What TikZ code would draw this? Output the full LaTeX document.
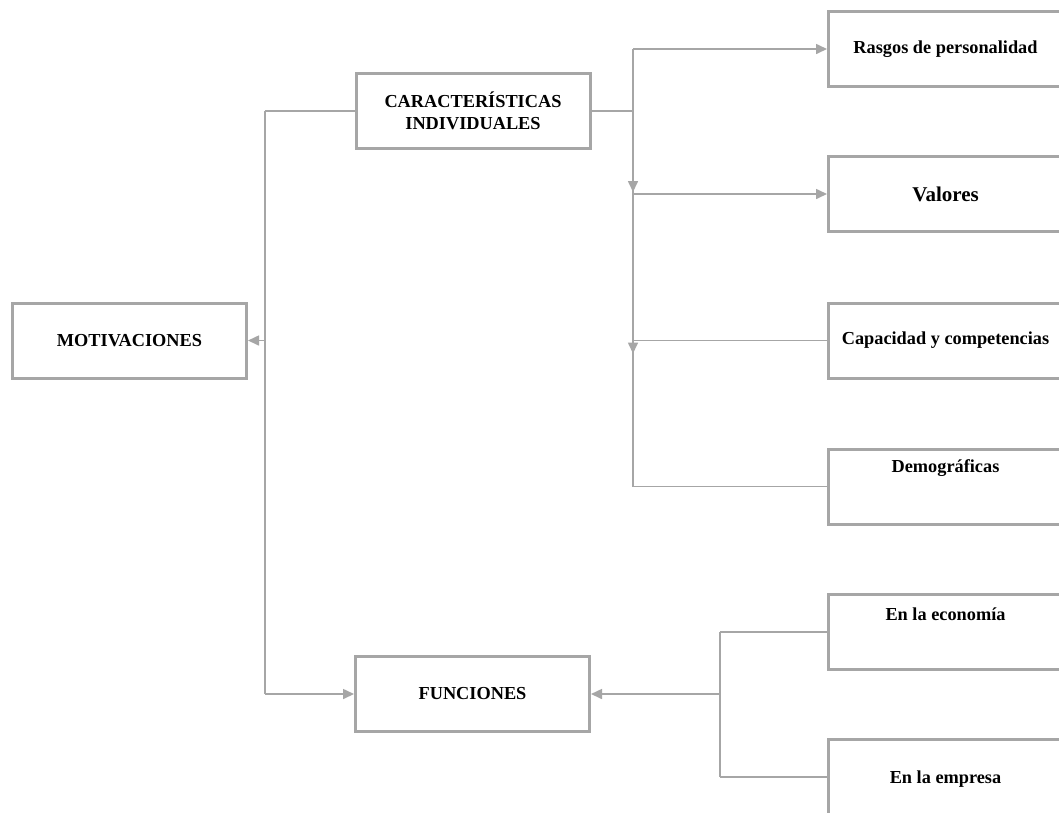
\documentclass[tikz,border=0pt]{standalone}
\usepackage{fontspec}
\setmainfont{Liberation Serif}
\usetikzlibrary{arrows.meta}
\definecolor{linegray}{HTML}{A6A6A6}
\begin{document}
\begin{tikzpicture}[x=1pt,y=-1pt,
  box/.style={draw=linegray, line width=3pt, fill=white, minimum width=234pt, minimum height=75pt, inner sep=0pt},
  txt/.style={font=\bfseries\fontsize{18.3}{22}\selectfont, align=center, text=black},
  conn/.style={draw=linegray, line width=1.6pt},
  arr/.style={conn, -{Triangle[length=11pt,width=10pt]}}
]
\useasboundingbox (0,0) rectangle (1059,812);
\clip (0,0) rectangle (1059,812);
\fill[white] (0,0) rectangle (1059,812);

% coordinates
\coordinate (lc) at (265,111);
\coordinate (lm) at (265,340.5);
\coordinate (lf) at (265,694);
\coordinate (jc) at (633,111);
\coordinate (jtop) at (633,49);
\coordinate (jv) at (633,194);
\coordinate (jcap) at (633,340.5);
\coordinate (jdem) at (633,486.5);
\coordinate (jf) at (720,694);
\coordinate (je) at (720,632);
\coordinate (jm) at (720,777);

% connectors
\draw[conn] (lc) -- (lf);
\draw[conn] (jtop) -- (jdem);
\draw[conn] (je) -- (jm);

% boxes
\node[box] (motiv) at (129.5,340.5) {};
\node[box] (carac) at (473,111) {};
\node[box] (func) at (472.5,694) {};
\node[box] (rasgos) at (945.5,49) {};
\node[box] (valores) at (945.5,194) {};
\node[box] (capac) at (945.5,340.5) {};
\node[box] (demo) at (945.5,486.5) {};
\node[box] (econ) at (945.5,632) {};
\node[box] (empresa) at (945.5,777) {};

% texts
\node[txt] (tmotiv) at (motiv.center) {MOTIVACIONES};
\node[txt] (tcarac) at (carac.center) {CARACTERÍSTICAS\\INDIVIDUALES};
\node[txt] (tfunc) at (func.center) {FUNCIONES};
\node[txt] (trasgos) at (rasgos.center) {Rasgos de personalidad};
\node[txt, font=\bfseries\fontsize{21}{24}\selectfont] (tvalores) at (valores.center) {Valores};
\node[txt] (tcapac) at (capac.center) {Capacidad y competencias};
\node[txt] (tdemo) at (945.5,468) {Demográficas};
\node[txt] (tecon) at (945.5,614) {En la economía};
\node[txt] (tempresa) at (945.5,779) {En la empresa};

% arrows and links
\draw[conn] (carac.west) -- (lc);
\draw[arr] (lm) -- (motiv.east);
\draw[arr] (lf) -- (func.west);
\draw[conn] (carac.east) -- (jc);
\draw[arr] (jtop) -- (rasgos.west);
\draw[arr] (jv) -- (valores.west);
\draw[conn] (jcap) -- (capac.west);
\draw[conn] (jdem) -- (demo.west);
\draw[arr] (jc) -- ++(0,81);
\draw[arr] (jcap) -- ++(0,13);
\draw[arr] (jf) -- (func.east);
\draw[conn] (je) -- (econ.west);
\draw[conn] (jm) -- (empresa.west);
\end{tikzpicture}
\end{document}
